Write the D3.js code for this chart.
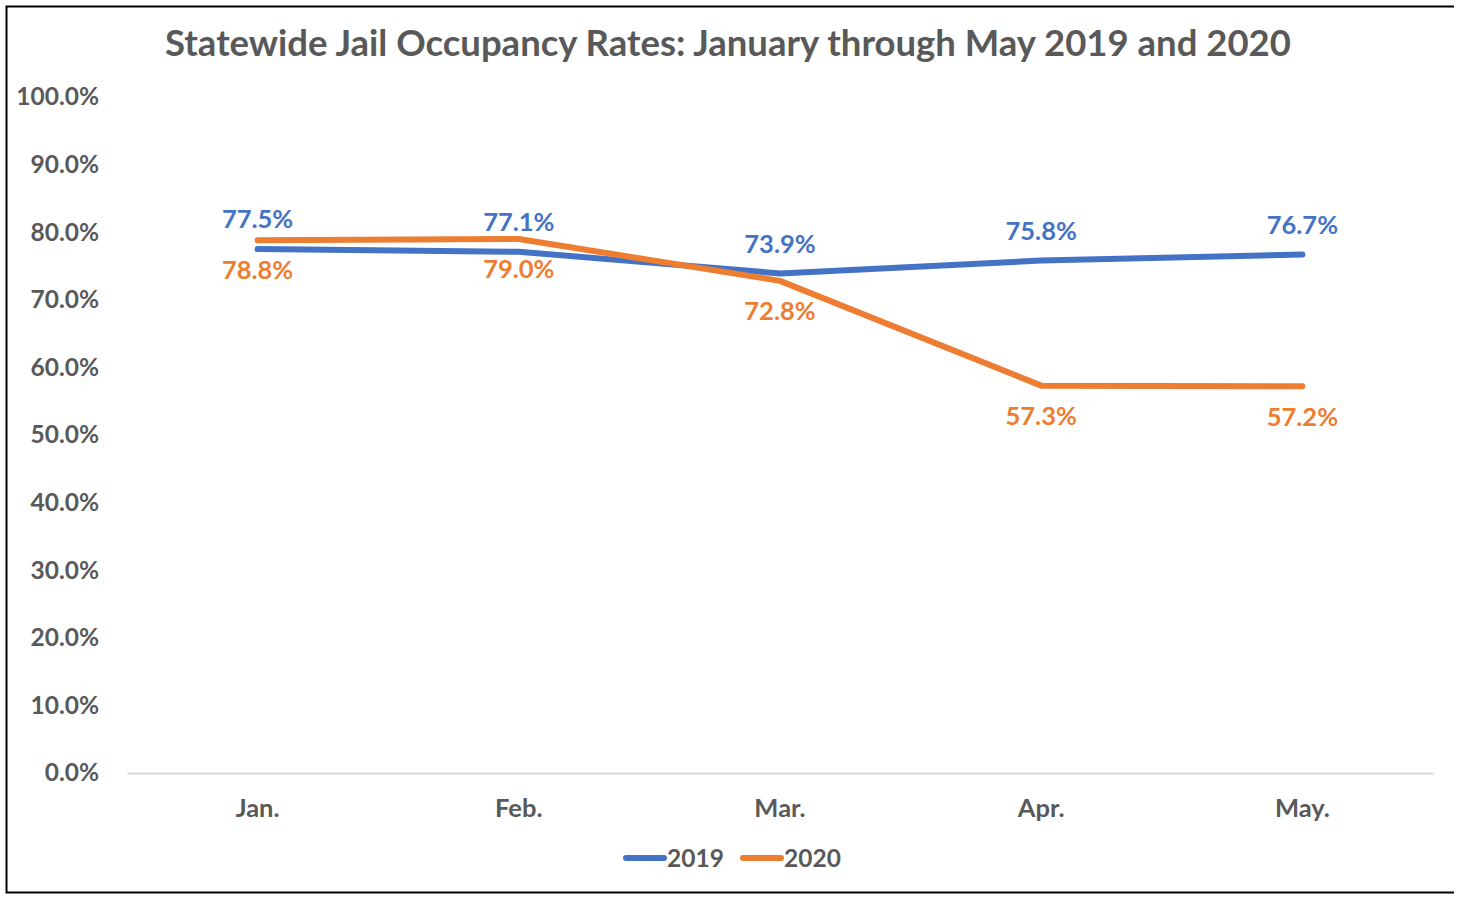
<!DOCTYPE html>
<html>
<head>
<meta charset="utf-8">
<script src="https://cdn.jsdelivr.net/npm/d3@7"></script>
<style>
  body { margin: 0; background: #fff; }
  svg text { font-family: Lato, "Open Sans", sans-serif; font-weight: bold; }
</style>
</head>
<body>
<div id="chart"></div>
<script>
const months = ["Jan.", "Feb.", "Mar.", "Apr.", "May."]
const rates2019 = [0.775, 0.771, 0.739, 0.758, 0.767]
const rates2020 = [0.788, 0.790, 0.728, 0.573, 0.572]
const yTicks = [0, 0.1, 0.2, 0.3, 0.4, 0.5, 0.6, 0.7, 0.8, 0.9, 1.0]

const width = 1462
const height = 901
const blue = "#4472C4"
const orange = "#ED7D31"
const gray = "#595959"

const series = [
    { name: "2019", values: rates2019, color: blue, labelDy: -30 },
    { name: "2020", values: rates2020, color: orange, labelDy: 30 }
]

const svg = d3.select("#chart").append("svg")
    .attr("width", width)
    .attr("height", height)

// frame (left, top, bottom)
svg.append("path")
    .attr("d", "M1454,6.5 H6.5 V892.5 H1454")
    .attr("fill", "none")
    .attr("stroke", "#000")
    .attr("stroke-width", 2)

const xScale = d3.scaleBand().domain(months).range([127, 1433])
const yScale = d3.scaleLinear().domain([0, 1]).range([773, 97])
const cx = function(m) { return xScale(m) + xScale.bandwidth() / 2 }

svg.append("text")
    .attr("x", 728)
    .attr("y", 56)
    .attr("text-anchor", "middle")
    .attr("font-size", "36.5px")
    .attr("fill", gray)
    .text("Statewide Jail Occupancy Rates: January through May 2019 and 2020")

// y axis labels
const yAxis = d3.axisLeft(yScale).tickValues(yTicks).tickFormat(d3.format(".1%")).tickSize(0).tickPadding(0)
const yG = svg.append("g").attr("transform", "translate(99,0)").call(yAxis)
yG.select(".domain").remove()
yG.selectAll("text")
    .attr("font-size", "24.5px")
    .attr("fill", gray)
    .attr("font-family", null)

// x axis
const xAxis = d3.axisBottom(xScale).tickSize(0).tickPadding(26)
const xG = svg.append("g").attr("transform", "translate(0,773)").call(xAxis)
xG.select(".domain").attr("stroke", "#D9D9D9").attr("stroke-width", 2)
xG.selectAll("text")
    .attr("font-size", "25.5px")
    .attr("fill", gray)
    .attr("font-family", null)

const line = d3.line()
    .x(function(d, i) { return cx(months[i]) })
    .y(function(d) { return yScale(d) })

series.forEach(function(s) {
    svg.append("path")
        .datum(s.values)
        .attr("d", line)
        .attr("fill", "none")
        .attr("stroke", s.color)
        .attr("stroke-width", 6)
        .attr("stroke-linecap", "round")
        .attr("stroke-linejoin", "round")
})

series.forEach(function(s) {
    svg.selectAll(null).data(s.values).enter()
        .append("text")
        .attr("x", function(d, i) { return cx(months[i]) })
        .attr("y", function(d) { return yScale(d) + s.labelDy })
        .attr("dy", "0.36em")
        .attr("text-anchor", "middle")
        .attr("font-size", "25.5px")
        .attr("fill", s.color)
        .text(function(d) { return d3.format(".1%")(d) })
})

// legend
const legendX = [623, 740]
series.forEach(function(s, i) {
    const g = svg.append("g").attr("transform", "translate(" + legendX[i] + ",858)")
    g.append("line")
        .attr("x1", 3).attr("x2", 41)
        .attr("stroke", s.color)
        .attr("stroke-width", 6)
        .attr("stroke-linecap", "round")
    g.append("text")
        .attr("x", 44)
        .attr("dy", "0.36em")
        .attr("font-size", "24.5px")
        .attr("fill", gray)
        .text(s.name)
})
</script>
</body>
</html>
